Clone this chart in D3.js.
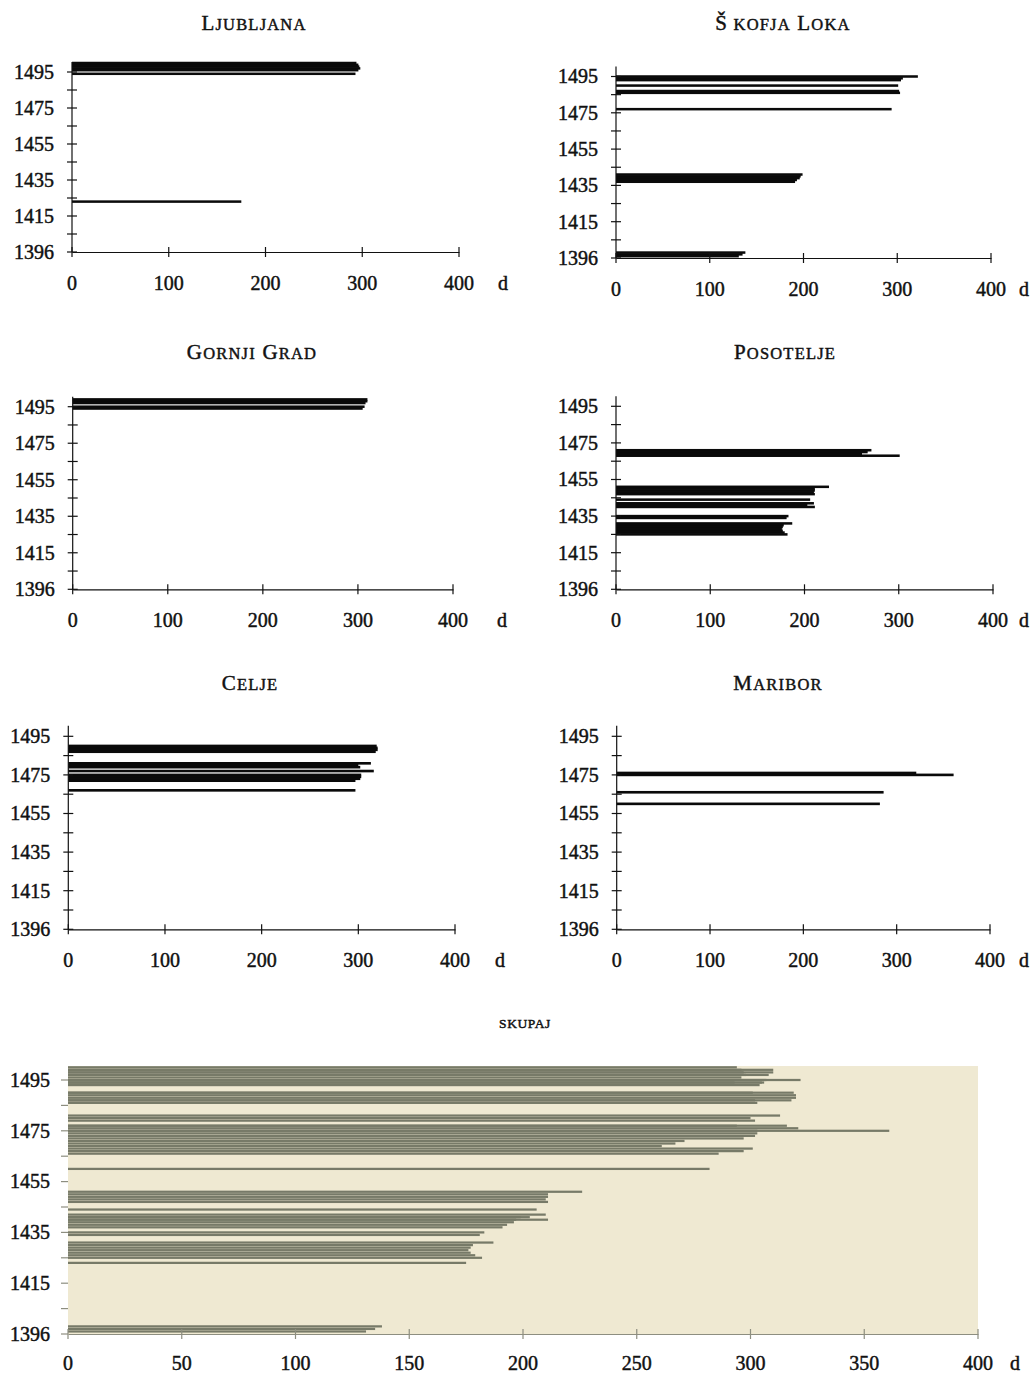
<!DOCTYPE html>
<html>
<head>
<meta charset="utf-8">
<script src="https://cdn.jsdelivr.net/npm/d3@7/dist/d3.min.js"></script>
<style>
  html, body { margin: 0; padding: 0; background: #ffffff; }
  svg { display: block; }
  text { font-family: "Liberation Serif", "Times New Roman", serif; fill: #111; stroke: #111; stroke-width: 0.45px; }
</style>
</head>
<body>
<svg id="chart" width="1035" height="1373"></svg>
<script>
// ---------------- DATA ----------------
const regionNames = ["Ljubljana", "Škofja Loka", "Gornji Grad", "Posotelje", "Celje", "Maribor"];
const totalTitle = "SKUPAJ";
const unitLabel = "d";

const ljubljanaYears = [1500, 1499, 1498, 1497, 1496, 1494, 1423];
const ljubljanaDays  = [294, 296, 297, 298, 296, 293, 175];

const skofjaLokaYears = [1495, 1494, 1493, 1490, 1487, 1486, 1477, 1441, 1440, 1439, 1438, 1437, 1398, 1397, 1396];
const skofjaLokaDays  = [322, 306, 304, 301, 302, 303, 294, 199, 197, 196, 193, 191, 138, 135, 131];

const gornjiGradYears = [1499, 1498, 1497, 1495, 1494];
const gornjiGradDays  = [310, 310, 308, 307, 305];

const posoteljeYears = [1471, 1470, 1469, 1468, 1451, 1450, 1449, 1448, 1447, 1444, 1442, 1441, 1440, 1435, 1434, 1431, 1430, 1429, 1428, 1427, 1426, 1425];
const posoteljeDays  = [271, 267, 261, 301, 226, 211, 211, 210, 211, 206, 210, 203, 211, 183, 181, 187, 178, 177, 176, 177, 179, 182];

const celjeYears = [1490, 1489, 1488, 1487, 1481, 1480, 1479, 1477, 1475, 1474, 1473, 1472, 1467];
const celjeDays  = [319, 320, 320, 318, 313, 300, 302, 316, 303, 303, 302, 297, 297];

const mariborYears = [1476, 1475, 1466, 1460];
const mariborDays  = [321, 361, 286, 282];

const yTickValues = [1395, 1415, 1435, 1455, 1475, 1495];
const yTickLabels = ["1396", "1415", "1435", "1455", "1475", "1495"];
const yMinorTicks = [1405, 1425, 1445, 1465, 1485];
const xTicksSmall = [0, 100, 200, 300, 400];
const xTicksTotal = [0, 50, 100, 150, 200, 250, 300, 350, 400];
const yearDomain = [1395, 1500.5];
const dayDomain = [0, 400];

// ---------------- LAYOUT ----------------
const regionData = [
  [ljubljanaYears, ljubljanaDays],
  [skofjaLokaYears, skofjaLokaDays],
  [gornjiGradYears, gornjiGradDays],
  [posoteljeYears, posoteljeDays],
  [celjeYears, celjeDays],
  [mariborYears, mariborDays]
];

const panelLayout = [
  { x0: 72,    x1: 459, yb: 252,   step: 1.80,  tx: 254, ty: 30,  dx: 503 },
  { x0: 616,   x1: 991, yb: 258,   step: 1.815, tx: 783, ty: 30,  dx: 1024 },
  { x0: 72.7,  x1: 453, yb: 589.3, step: 1.826, tx: 252, ty: 359, dx: 502 },
  { x0: 616,   x1: 993, yb: 589.3, step: 1.83,  tx: 785, ty: 359, dx: 1024 },
  { x0: 68.3,  x1: 455, yb: 929.3, step: 1.93,  tx: 250, ty: 690, dx: 500 },
  { x0: 616.7, x1: 990, yb: 929.3, step: 1.93,  tx: 778, ty: 690, dx: 1024 }
];
const totalLayout = { x0: 68, x1: 978, yb: 1334, step: 2.54, tx: 525, ty: 1028, dx: 1015 };

const svg = d3.select("#chart");

function smallCapsTitle(g, text, x, y, big, small) {
  const t = g.append("text").attr("x", x).attr("y", y).attr("text-anchor", "middle")
    .style("letter-spacing", "1.2px");
  const words = text.split(" ");
  words.forEach((w, i) => {
    const prefix = i > 0 ? " " : "";
    // the Š in "Škofja" is set apart in the original
    if (w === "Škofja") {
      t.append("tspan").attr("font-size", big).text(prefix + "Š");
      t.append("tspan").attr("font-size", small).text(" KOFJA");
      return;
    }
    t.append("tspan").attr("font-size", big).text(prefix + w[0].toUpperCase());
    t.append("tspan").attr("font-size", small).text(w.slice(1).toUpperCase());
  });
}

function drawPanel(L, years, days, title, opts) {
  const g = svg.append("g");
  const x = d3.scaleLinear().domain(dayDomain).range([L.x0, L.x1]);
  const y = d3.scaleLinear().domain(yearDomain)
    .range([L.yb, L.yb - (yearDomain[1] - yearDomain[0]) * L.step]);

  const recs = years.map((yr, i) => ({ year: yr, days: days[i] }))
    .sort((a, b) => b.days - a.days);

  if (opts.total) {
    g.append("rect")
      .attr("x", x(0)).attr("y", y(yearDomain[1]))
      .attr("width", x(400) - x(0)).attr("height", y(yearDomain[0]) - y(yearDomain[1]))
      .attr("fill", "#efe9d2");
  }

  const barH = opts.total ? L.step * 0.88 : L.step + 0.7;
  g.selectAll("rect.bar").data(recs).enter().append("rect")
    .attr("class", "bar")
    .attr("x", x(0))
    .attr("y", d => y(d.year) - barH / 2)
    .attr("width", d => x(d.days) - x(0))
    .attr("height", barH)
    .attr("fill", opts.total ? "#777a68" : "#0a0a0a");

  const axisColor = opts.total ? "#8d8e80" : "#111";

  // x axis
  const xAxis = d3.axisBottom(x).tickValues(opts.xTicks).tickSize(0).tickFormat("");
  const gx = g.append("g").attr("transform", `translate(0,${L.yb})`).call(xAxis);
  gx.select(".domain").attr("stroke", axisColor).attr("stroke-width", 1.2);
  g.selectAll("line.xt").data(opts.xTicks).enter().append("line")
    .attr("x1", d => x(d)).attr("x2", d => x(d))
    .attr("y1", L.yb - 5).attr("y2", L.yb + 5)
    .attr("stroke", axisColor).attr("stroke-width", 1.2);
  g.selectAll("text.xl").data(opts.xTicks).enter().append("text")
    .attr("x", d => x(d)).attr("y", L.yb + (opts.total ? 36 : 38))
    .attr("text-anchor", "middle").attr("font-size", 20)
    .text(d => d3.format("d")(d));
  g.append("text").attr("x", L.dx).attr("y", L.yb + (opts.total ? 36 : 38))
    .attr("text-anchor", "middle").attr("font-size", 20).text(unitLabel);

  // y axis
  const allY = yTickValues.concat(yMinorTicks);
  if (!opts.total) {
    g.append("line").attr("x1", L.x0).attr("x2", L.x0)
      .attr("y1", y(yearDomain[0])).attr("y2", y(yearDomain[1]))
      .attr("stroke", axisColor).attr("stroke-width", 1.2);
    g.selectAll("line.yt").data(allY).enter().append("line")
      .attr("x1", L.x0 - 5).attr("x2", L.x0 + 5)
      .attr("y1", d => y(d)).attr("y2", d => y(d))
      .attr("stroke", axisColor).attr("stroke-width", 1.2);
  } else {
    g.selectAll("line.yt").data(allY).enter().append("line")
      .attr("x1", L.x0 - 7).attr("x2", L.x0)
      .attr("y1", d => y(d)).attr("y2", d => y(d))
      .attr("stroke", axisColor).attr("stroke-width", 1.2);
  }
  g.selectAll("text.yl").data(yTickValues).enter().append("text")
    .attr("x", L.x0 - 18).attr("y", d => y(d))
    .attr("dy", "0.34em")
    .attr("text-anchor", "end").attr("font-size", 20)
    .text((d, i) => yTickLabels[i]);

  // title
  if (opts.total) {
    g.append("text").attr("x", L.tx).attr("y", L.ty).attr("text-anchor", "middle")
      .attr("font-size", 13.5).style("letter-spacing", "0.6px").text(title);
  } else {
    smallCapsTitle(g, title, L.tx, L.ty, 21, 16.5);
  }
}

regionNames.forEach((name, i) => {
  drawPanel(panelLayout[i], regionData[i][0], regionData[i][1], name, { xTicks: xTicksSmall });
});

const allYears = regionData.flatMap(r => r[0]);
const allDays = regionData.flatMap(r => r[1]);
drawPanel(totalLayout, allYears, allDays, totalTitle, { xTicks: xTicksTotal, total: true });
</script>
</body>
</html>
